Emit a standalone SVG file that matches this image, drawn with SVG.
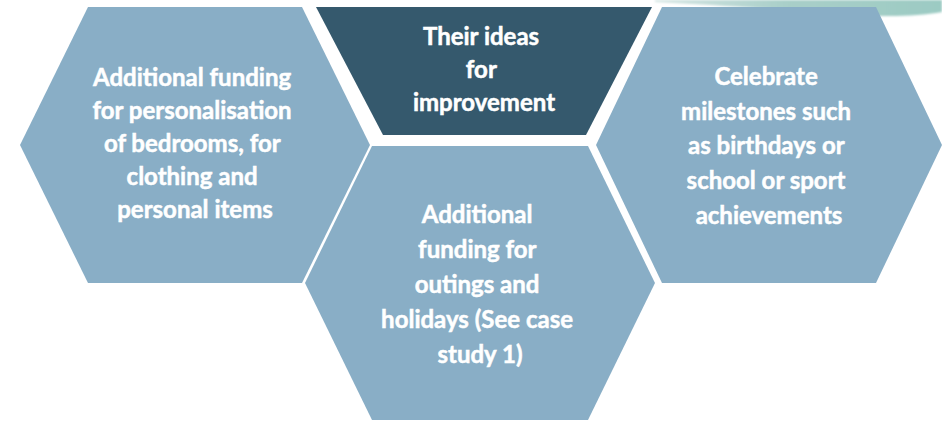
<svg xmlns="http://www.w3.org/2000/svg" width="942" height="421" viewBox="0 0 942 421">
  <defs>
    <linearGradient id="teal" x1="0" y1="0" x2="1" y2="0">
      <stop offset="0" stop-color="#d6e6e4"/>
      <stop offset="0.45" stop-color="#a9cfc9"/>
      <stop offset="1" stop-color="#9ccbc3"/>
    </linearGradient>
    <filter id="soft" x="-5%" y="-50%" width="110%" height="200%">
      <feGaussianBlur stdDeviation="1.2"/>
    </filter>
  </defs>
  <style>
    .hex { fill: #89aec6; }
    .hex-dark { fill: #35596d; }
    .lbl { font-family: Lato, "Open Sans", "Liberation Sans", sans-serif; font-weight: 700; font-size: 24px; fill: #ffffff; stroke: #ffffff; stroke-width: 0.5; text-anchor: middle; }
  </style>
  <rect width="942" height="421" fill="#ffffff"/>
  <path d="M655,0 L942,0 L942,12 C915,17 880,17 840,14 C780,9 710,5 655,2 Z" fill="url(#teal)" filter="url(#soft)"/>
  <g id="connectors"></g>
  <g id="node-left">
    <polygon class="hex" points="20,145 88,7 302,7 370,145 302,283 88,283"/>
    <text class="lbl">
      <tspan x="195" y="86">Additional funding</tspan>
      <tspan x="195" y="119">for personalisation</tspan>
      <tspan x="195" y="152">of bedrooms, for</tspan>
      <tspan x="195" y="185">clothing and</tspan>
      <tspan x="195" y="218">personal items</tspan>
    </text>
  </g>
  <g id="node-center-top">
    <polygon class="hex-dark" points="316,7 652,7 586,135 383,135"/>
    <text class="lbl">
      <tspan x="484" y="45">Their ideas</tspan>
      <tspan x="484" y="78">for</tspan>
      <tspan x="484" y="111">improvement</tspan>
    </text>
  </g>
  <g id="node-right">
    <polygon class="hex" points="596,145 662,7 876,7 942,145 876,283 662,283"/>
    <text class="lbl">
      <tspan x="769" y="85">Celebrate</tspan>
      <tspan x="769" y="120">milestones such</tspan>
      <tspan x="769" y="154">as birthdays or</tspan>
      <tspan x="769" y="189">school or sport</tspan>
      <tspan x="769" y="224">achievements</tspan>
    </text>
  </g>
  <g id="node-bottom">
    <polygon class="hex" points="305,283 372,146 588,146 655,283 588,420 372,420"/>
    <text class="lbl">
      <tspan x="480" y="223">Additional</tspan>
      <tspan x="480" y="258">funding for</tspan>
      <tspan x="480" y="293">outings and</tspan>
      <tspan x="480" y="328">holidays (See case</tspan>
      <tspan x="480" y="363">study 1)</tspan>
    </text>
  </g>
</svg>
